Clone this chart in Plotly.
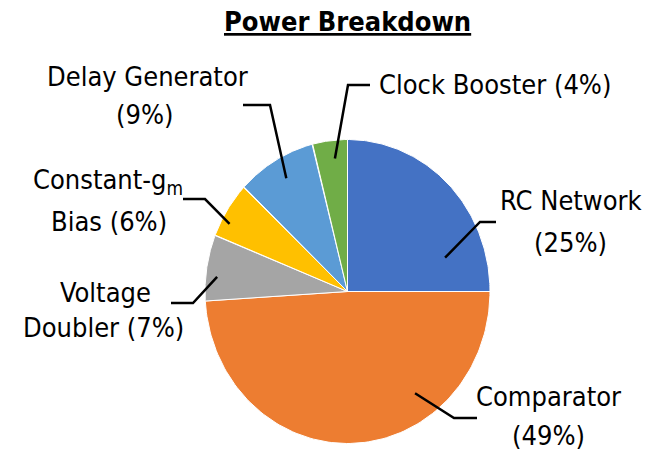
import numpy as np
import plotly.graph_objects as go

# Power share per block, clockwise from 12 o'clock
names = ["RC Network", "Comparator", "Voltage Doubler", "Constant-gm Bias",
         "Delay Generator", "Clock Booster"]
values = [25, 49, 7, 6, 9, 4]
colors = ["#4472C4", "#ED7D31", "#A5A5A5", "#FFC000", "#5B9BD5", "#70AD47"]
label_templates = ["RC Network<br>({p}%)", "Comparator<br>({p}%)",
                   "Voltage<br>Doubler ({p}%)", "Constant-g<sub>m</sub><br>Bias ({p}%)",
                   "Delay Generator<br>({p}%)", "Clock Booster ({p}%)"]

# Canvas / pie geometry (pixel-like axis units, y grows downward)
W, H = 667, 451
CX, CY, RX, RY = 347.5, 291.5, 142.5, 152.0

# Leader styling: anchor (fraction through slice, radial fraction), elbow, end
anchor = [(0.80, 0.72), (0.31, 0.82), (0.38, 0.92), (0.31, 0.94), (0.52, 0.86), (0.60, 0.88)]
elbow = [(480, 222), (454, 418), (193, 303), (205, 199), (270, 105), (348, 85)]
end = [(496, 222), (477, 418), (171, 303), (183, 199), (243, 105), (370, 85)]
# Centre of each label line (one entry per line)
line_pos = [[(571, 200), (570, 242)],
            [(548, 396), (548, 435)],
            [(105, 292), (103, 327)],
            [(108, 181), (109, 221)],
            [(147.5, 76), (145, 114)],
            [(495, 84)]]

FONT = "DejaVu Sans Condensed, Liberation Sans Narrow, Arial Narrow, sans-serif"


def pt(theta, r=1.0):
    return CX + r * RX * np.sin(theta), CY - r * RY * np.cos(theta)


total = sum(values)
fig = go.Figure()
start = 0.0
spans = []
for name, v, c in zip(names, values, colors):
    a0 = start / total * 2 * np.pi
    a1 = (start + v) / total * 2 * np.pi
    spans.append((a0, a1))
    th = np.linspace(a0, a1, 120)
    xs, ys = pt(th)
    fig.add_trace(go.Scatter(
        x=np.concatenate([[CX], xs, [CX]]), y=np.concatenate([[CY], ys, [CY]]),
        mode="lines", fill="toself", fillcolor=c,
        line=dict(color="white", width=1), name=name, hoverinfo="skip",
        showlegend=False))
    start += v

for i, (a0, a1) in enumerate(spans):
    f, r = anchor[i]
    ax_, ay_ = pt(a0 + f * (a1 - a0), r)
    fig.add_trace(go.Scatter(
        x=[ax_, elbow[i][0], end[i][0]], y=[ay_, elbow[i][1], end[i][1]],
        mode="lines", line=dict(color="black", width=2.5),
        hoverinfo="skip", showlegend=False))
    pct = round(values[i] / total * 100)
    lines = label_templates[i].format(p=pct).split("<br>")
    for txt, (lx, ly) in zip(lines, line_pos[i]):
        fig.add_annotation(
            x=lx, y=ly, xref="x", yref="y", text=txt, showarrow=False,
            xanchor="center", yanchor="middle",
            font=dict(family=FONT, size=27, color="#000000"))

fig.add_annotation(
    x=347.5, y=21, xref="x", yref="y", text="<b><u>Power Breakdown</u></b>",
    showarrow=False, xanchor="center", yanchor="middle",
    font=dict(family=FONT, size=27, color="#000000"))

fig.update_layout(
    width=W, height=H, margin=dict(l=0, r=0, t=0, b=0),
    paper_bgcolor="white", plot_bgcolor="white",
    xaxis=dict(range=[0, W], visible=False, fixedrange=True),
    yaxis=dict(range=[H, 0], visible=False, fixedrange=True),
)
fig.write_html("out.html")
